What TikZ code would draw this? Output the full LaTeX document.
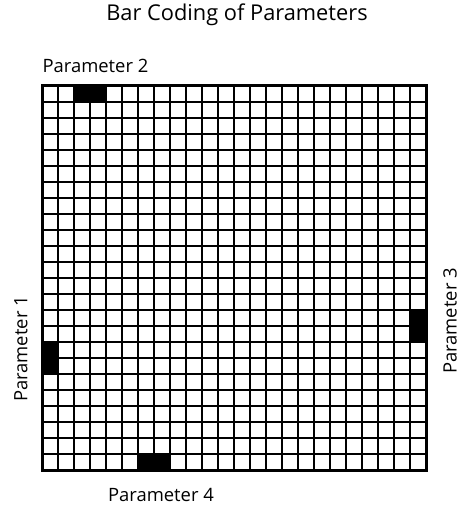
\documentclass[tikz,border=0pt]{standalone}
\usepackage{fontspec}
\setmainfont{Open Sans}
\tikzset{
  ttl/.style={font=\fontsize{21.8}{24}\selectfont,inner sep=0pt},
  lbl/.style={font=\fontsize{18.4}{20}\selectfont,inner sep=0pt},
  gl/.style={line width=1.6pt},
  frame/.style={line width=3pt},
}
\begin{document}
\begin{tikzpicture}[x=1pt,y=-1pt]
  \useasboundingbox (0,0) rectangle (461,508);
  % coded bars
  \foreach \c/\r in {2/0,3/0,6/23,7/23,23/14,23/15,0/16,0/17}
    \fill (42+16*\c,86+16*\r) rectangle ++(16,16);
  % grid
  \foreach \i in {1,...,23} {
    \draw[gl] (42+16*\i,86) -- (42+16*\i,470);
    \draw[gl] (42,86+16*\i) -- (426,86+16*\i);
  }
  \draw[frame] (42,86) rectangle (426,470);
  % labels
  \node[ttl] (title) at (237,15) {Bar Coding of Parameters};
  \node[lbl] (p2) at (95.5,66) {Parameter 2};
  \node[lbl] (p4) at (161,495) {Parameter 4};
  \node[lbl,rotate=90] (p1) at (21,349) {Parameter 1};
  \node[lbl,rotate=90] (p3) at (450,321) {Parameter 3};
\end{tikzpicture}
\end{document}
